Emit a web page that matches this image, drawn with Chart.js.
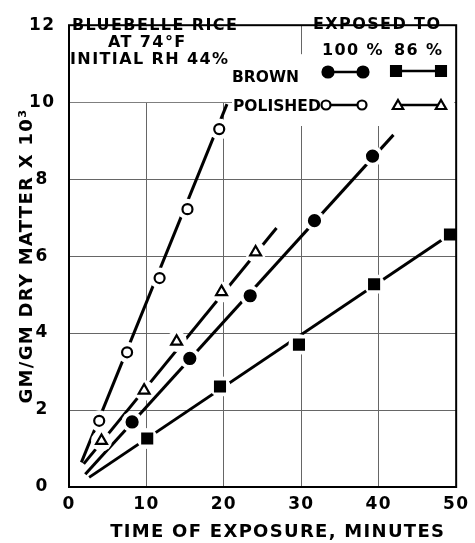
<!DOCTYPE html>
<html>
<head>
<meta charset="utf-8">
<script src="https://cdn.jsdelivr.net/npm/chart.js@4.4.1/dist/chart.umd.min.js"></script>
<style>
html, body { margin: 0; padding: 0; background: #fff; }
</style>
</head>
<body>
<canvas id="chart" width="475" height="543"></canvas>
<script>
// Bluebelle rice - moisture uptake vs time of exposure

const xTicks = [0, 10, 20, 30, 40, 50];
const yTicks = [0, 2, 4, 6, 8, 10, 12];

// measured points (minutes, gm/gm dry matter x 10^3)
const polished100X = [3.9, 7.5, 11.7, 15.3, 19.4];
const polished100Y = [1.72, 3.5, 5.43, 7.22, 9.3];
const polished86X = [4.2, 9.7, 13.9, 19.7, 24.1];
const polished86Y = [1.2, 2.51, 3.78, 5.07, 6.1];
const brown100X = [8.15, 15.6, 23.4, 31.7, 39.2];
const brown100Y = [1.69, 3.34, 4.97, 6.92, 8.6];
const brown86X = [10.1, 19.5, 29.7, 39.4, 49.2];
const brown86Y = [1.26, 2.61, 3.7, 5.27, 6.56];

// ends of the drawn straight lines
const polished100LineX = [1.6, 20.4];
const polished100LineY = [0.64, 9.95];
const polished86LineX = [1.9, 26.8];
const polished86LineY = [0.6, 6.73];
const brown100LineX = [2.1, 41.9];
const brown100LineY = [0.33, 9.15];
const brown86LineX = [2.6, 49.2];
const brown86LineY = [0.25, 6.56];

const FONT = '"DejaVu Sans", sans-serif';

function pts(xs, ys) {
    return xs.map(function (x, i) { return { x: x, y: ys[i] }; });
}

function lineSet(xs, ys) {
    return {
        type: 'line', data: pts(xs, ys), order: 3,
        borderColor: '#000', borderWidth: 3, pointRadius: 0, showLine: true
    };
}

// white disc under each marker so the line breaks around it
function haloSet(xs, ys) {
    return {
        type: 'scatter', data: pts(xs, ys), order: 2, showLine: false,
        pointRadius: 10.5, pointBackgroundColor: '#fff', pointBorderColor: '#fff', pointBorderWidth: 0
    };
}

function markerSet(xs, ys, style, radius, filled) {
    return {
        type: 'scatter', data: pts(xs, ys), order: 1, showLine: false,
        pointStyle: style, pointRadius: radius,
        pointBackgroundColor: filled ? '#000' : '#fff',
        pointBorderColor: '#000', pointBorderWidth: 2.2
    };
}

const datasets = [
    lineSet(polished100LineX, polished100LineY),
    lineSet(polished86LineX, polished86LineY),
    lineSet(brown100LineX, brown100LineY),
    lineSet(brown86LineX, brown86LineY),
    haloSet(polished100X, polished100Y),
    haloSet(polished86X, polished86Y),
    haloSet(brown100X, brown100Y),
    haloSet(brown86X, brown86Y),
    markerSet(polished100X, polished100Y, 'circle', 5, false),
    markerSet(polished86X, polished86Y, 'triangle', 6.3, false),
    markerSet(brown100X, brown100Y, 'circle', 5.5, true),
    markerSet(brown86X, brown86Y, 'rect', 7, true)
];

// draws the sample marker used in the key
function sample(ctx, style, x, y, r, filled) {
    ctx.save();
    ctx.lineWidth = 2.2;
    ctx.strokeStyle = '#000';
    ctx.fillStyle = filled ? '#000' : '#fff';
    Chart.helpers.drawPoint(ctx, { pointStyle: style, radius: r, borderWidth: 2.2 }, x, y);
    ctx.restore();
}

const paperPlugin = {
    id: 'paper',
    beforeDraw: function (chart) {
        chart.ctx.letterSpacing = '1.3px';
    },
    beforeDatasetsDraw: function (chart) {
        // blank the grid behind the key
        const ctx = chart.ctx;
        const a = chart.chartArea;
        const xs = chart.scales.x;
        const ys = chart.scales.y;
        ctx.save();
        ctx.fillStyle = '#fff';
        ctx.fillRect(a.left + 1, a.top + 1, a.right - a.left - 2, ys.getPixelForValue(10) - a.top - 1);
        ctx.fillRect(232, a.top + 1, a.right - 234, 125 - a.top);
        // short bit of the 30 line left standing at the top
        ctx.strokeStyle = '#666';
        ctx.lineWidth = 1;
        const x30 = Math.round(xs.getPixelForValue(30)) + 0.5;
        ctx.beginPath();
        ctx.moveTo(x30, a.top);
        ctx.lineTo(x30, a.top + 29);
        ctx.stroke();
        ctx.restore();
    },
    afterDatasetsDraw: function (chart) {
        const ctx = chart.ctx;
        const a = chart.chartArea;
        ctx.save();
        ctx.strokeStyle = '#000';
        ctx.lineWidth = 2;
        ctx.strokeRect(a.left, a.top, a.right - a.left, a.bottom - a.top);

        ctx.fillStyle = '#000';
        ctx.textBaseline = 'alphabetic';
        ctx.textAlign = 'left';
        ctx.letterSpacing = '1.4px';
        ctx.font = 'bold 16px ' + FONT;
        ctx.fillText('BLUEBELLE RICE', 72, 30);
        ctx.fillText('AT 74\u00B0F', 108, 47);
        ctx.fillText('INITIAL RH 44%', 70, 64);
        ctx.fillText('EXPOSED TO', 313, 29);
        ctx.fillText('100 %', 322, 55);
        ctx.fillText('86 %', 394, 55);
        ctx.letterSpacing = '0px';
        ctx.font = 'bold 15.5px ' + FONT;
        ctx.fillText('BROWN', 232, 82);
        ctx.fillText('POLISHED', 233, 111);

        // key lines
        ctx.lineWidth = 2.5;
        ctx.beginPath();
        ctx.moveTo(328, 72); ctx.lineTo(363, 72);
        ctx.moveTo(396, 71); ctx.lineTo(441, 71);
        ctx.moveTo(326, 105); ctx.lineTo(362, 105);
        ctx.moveTo(398, 105); ctx.lineTo(441, 105);
        ctx.stroke();
        ctx.restore();

        sample(ctx, 'circle', 328, 72, 5.5, true);
        sample(ctx, 'circle', 363, 72, 5.5, true);
        sample(ctx, 'rect', 396, 71, 7, true);
        sample(ctx, 'rect', 441, 71, 7, true);
        sample(ctx, 'circle', 326, 105, 4.5, false);
        sample(ctx, 'circle', 362, 105, 4.5, false);
        sample(ctx, 'triangle', 398, 106, 6, false);
        sample(ctx, 'triangle', 441, 106, 6, false);
    }
};

new Chart(document.getElementById('chart').getContext('2d'), {
    type: 'scatter',
    data: { datasets: datasets },
    plugins: [paperPlugin],
    options: {
        responsive: false,
        animation: false,
        layout: { padding: { top: 14, right: 14, left: 0, bottom: 0 } },
        plugins: { legend: { display: false }, tooltip: { enabled: false } },
        scales: {
            x: {
                type: 'linear', min: 0, max: 50,
                afterBuildTicks: function (s) { s.ticks = xTicks.map(function (v) { return { value: v }; }); },
                afterFit: function (s) { s.height = 56; },
                grid: { color: '#666', lineWidth: 1, drawTicks: false },
                border: { display: false },
                ticks: { color: '#000', padding: 7, maxRotation: 0, font: { family: FONT, size: 17, weight: 'bold' } },
                title: {
                    display: true, text: '\u00A0\u00A0\u00A0\u00A0TIME OF EXPOSURE, MINUTES', color: '#000',
                    padding: { top: 2, bottom: 0 },
                    font: { family: FONT, size: 18, weight: 'bold' }
                }
            },
            y: {
                type: 'linear', min: 0, max: 12,
                afterBuildTicks: function (s) { s.ticks = yTicks.map(function (v) { return { value: v }; }); },
                afterFit: function (s) { s.width = 69; },
                grid: { color: '#666', lineWidth: 1, drawTicks: false },
                border: { display: false },
                ticks: { color: '#000', padding: 15, crossAlign: 'center', font: { family: FONT, size: 17, weight: 'bold' } },
                title: {
                    display: true, text: 'GM/GM DRY MATTER X 10\u00B3', color: '#000',
                    padding: { top: 17, bottom: 0 },
                    font: { family: FONT, size: 18, weight: 'bold' }
                }
            }
        }
    }
});
</script>
</body>
</html>
